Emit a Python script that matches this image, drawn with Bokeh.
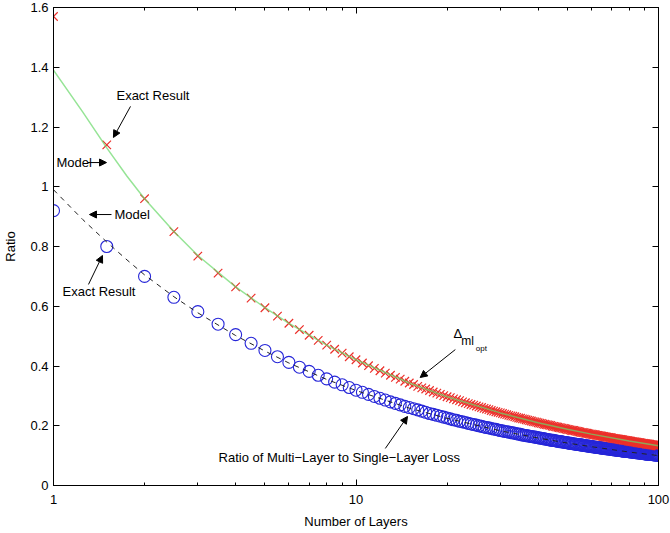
import numpy as np
from bokeh.plotting import figure
from bokeh.models import (Range1d, FixedTicker, LinearAxis, LogAxis, Label, Arrow,
                          NormalHead, CustomJSTickFormatter, ColumnDataSource)
from bokeh.embed import file_html
from bokeh.resources import INLINE

# ---------------- data ----------------
# number of layers (sampled every half layer from 1 to 100)
layers = [float(v) for v in np.arange(1.0, 100.5, 0.5)]

# exact result: Delta_ml_opt (red x markers)
exact_delta = [
    1.57, 1.14, 0.96, 0.85, 0.768, 0.711, 0.665, 0.627,
    0.595, 0.567, 0.543, 0.522, 0.503, 0.486, 0.470, 0.456, 0.443, 0.431,
    0.421, 0.410, 0.401, 0.392, 0.384, 0.376, 0.369, 0.362, 0.356, 0.349,
    0.343, 0.338, 0.332, 0.327, 0.323, 0.318, 0.313, 0.309, 0.305, 0.301,
    0.297, 0.294, 0.290, 0.287, 0.284, 0.280, 0.277, 0.274, 0.271, 0.269,
    0.266, 0.263, 0.261, 0.258, 0.256, 0.254, 0.251, 0.249, 0.247, 0.245,
    0.243, 0.241, 0.239, 0.237, 0.235, 0.233, 0.232, 0.230, 0.228, 0.226,
    0.225, 0.223, 0.222, 0.220, 0.219, 0.217, 0.216, 0.214, 0.213, 0.212,
    0.210, 0.209, 0.208, 0.206, 0.205, 0.204, 0.203, 0.202, 0.201, 0.199,
    0.198, 0.197, 0.196, 0.195, 0.194, 0.193, 0.192, 0.191, 0.190, 0.189,
    0.188, 0.187, 0.186, 0.185, 0.184, 0.184, 0.183, 0.182, 0.181, 0.180,
    0.179, 0.178, 0.178, 0.177, 0.176, 0.175, 0.175, 0.174, 0.173, 0.172,
    0.172, 0.171, 0.170, 0.170, 0.169, 0.168, 0.168, 0.167, 0.166, 0.166,
    0.165, 0.164, 0.164, 0.163, 0.163, 0.162, 0.161, 0.161, 0.160, 0.160,
    0.159, 0.158, 0.158, 0.157, 0.157, 0.156, 0.156, 0.155, 0.155, 0.154,
    0.154, 0.153, 0.153, 0.152, 0.152, 0.151, 0.151, 0.150, 0.150, 0.149,
    0.149, 0.148, 0.148, 0.147, 0.147, 0.146, 0.146, 0.146, 0.145, 0.145,
    0.144, 0.144, 0.143, 0.143, 0.143, 0.142, 0.142, 0.141, 0.141, 0.141,
    0.140, 0.140, 0.139, 0.139, 0.139, 0.138, 0.138, 0.138, 0.137, 0.137,
    0.136, 0.136, 0.136, 0.135, 0.135, 0.135, 0.134, 0.134, 0.134, 0.133,
    0.133,
]

# exact result: ratio of multi-layer to single-layer loss (blue circles)
exact_ratio = [
    0.92, 0.80, 0.70, 0.63, 0.582, 0.540, 0.505, 0.476,
    0.452, 0.431, 0.412, 0.396, 0.382, 0.369, 0.357, 0.346, 0.337, 0.328,
    0.319, 0.312, 0.305, 0.298, 0.292, 0.286, 0.280, 0.275, 0.270, 0.265,
    0.261, 0.257, 0.253, 0.249, 0.245, 0.241, 0.238, 0.235, 0.232, 0.229,
    0.226, 0.223, 0.220, 0.218, 0.215, 0.213, 0.211, 0.208, 0.206, 0.204,
    0.202, 0.200, 0.198, 0.196, 0.194, 0.193, 0.191, 0.189, 0.188, 0.186,
    0.184, 0.183, 0.181, 0.180, 0.179, 0.177, 0.176, 0.175, 0.173, 0.172,
    0.171, 0.169, 0.168, 0.167, 0.166, 0.165, 0.164, 0.163, 0.162, 0.161,
    0.160, 0.159, 0.158, 0.157, 0.156, 0.155, 0.154, 0.153, 0.152, 0.151,
    0.151, 0.150, 0.149, 0.148, 0.147, 0.147, 0.146, 0.145, 0.144, 0.144,
    0.143, 0.142, 0.141, 0.141, 0.140, 0.139, 0.139, 0.138, 0.137, 0.137,
    0.136, 0.136, 0.135, 0.134, 0.134, 0.133, 0.133, 0.132, 0.131, 0.131,
    0.130, 0.130, 0.129, 0.129, 0.128, 0.128, 0.127, 0.127, 0.126, 0.126,
    0.125, 0.125, 0.124, 0.124, 0.123, 0.123, 0.123, 0.122, 0.122, 0.121,
    0.121, 0.120, 0.120, 0.119, 0.119, 0.119, 0.118, 0.118, 0.117, 0.117,
    0.117, 0.116, 0.116, 0.115, 0.115, 0.115, 0.114, 0.114, 0.114, 0.113,
    0.113, 0.113, 0.112, 0.112, 0.112, 0.111, 0.111, 0.111, 0.110, 0.110,
    0.110, 0.109, 0.109, 0.109, 0.108, 0.108, 0.108, 0.107, 0.107, 0.107,
    0.106, 0.106, 0.106, 0.106, 0.105, 0.105, 0.105, 0.104, 0.104, 0.104,
    0.104, 0.103, 0.103, 0.103, 0.103, 0.102, 0.102, 0.102, 0.102, 0.101,
    0.101,
]

# model curves
model_x = [1, 1.25, 1.5, 1.75, 2, 2.5, 3, 4, 5, 6, 8, 10, 15, 20, 30, 40, 50, 60, 80, 100]
model_delta = [1.39, 1.25, 1.13, 1.035, 0.96, 0.85, 0.77, 0.665, 0.595, 0.543, 0.470,
               0.421, 0.343, 0.297, 0.243, 0.210, 0.188, 0.172, 0.149, 0.133]
model_ratio = [0.99, 0.89, 0.815, 0.755, 0.705, 0.632, 0.578, 0.502, 0.450, 0.410, 0.355,
               0.318, 0.259, 0.225, 0.183, 0.159, 0.142, 0.130, 0.112, 0.100]

y_ticks = [0, 0.2, 0.4, 0.6, 0.8, 1.0, 1.2, 1.4, 1.6]
x_ticks = [1, 10, 100]
x_minor_ticks = [2, 3, 4, 5, 6, 7, 8, 9, 20, 30, 40, 50, 60, 70, 80, 90]

FONT = "Liberation Sans"

# ---------------- figure ----------------
p = figure(width=670, height=533, x_axis_type="log",
           x_range=Range1d(1, 100), y_range=Range1d(0, 1.6),
           output_backend="svg", toolbar_location=None,
           min_border_left=53, min_border_right=12, min_border_top=7, min_border_bottom=48)
p.background_fill_color = "white"
p.border_fill_color = "white"
p.xgrid.visible = False
p.ygrid.visible = False
p.outline_line_color = "black"
p.outline_line_width = 1

xa = p.xaxis[0]
xa.ticker = FixedTicker(ticks=x_ticks, minor_ticks=x_minor_ticks)
xa.formatter = CustomJSTickFormatter(code="return String(Math.round(tick));")
xa.axis_label = "Number of Layers"
ya = p.yaxis[0]
ya.ticker = FixedTicker(ticks=y_ticks, minor_ticks=[])
ya.formatter = CustomJSTickFormatter(code="return String(Math.round(tick*10)/10);")
ya.axis_label = "Ratio"

for ax in (xa, ya):
    ax.major_tick_in = 6
    ax.major_tick_out = 0
    ax.minor_tick_in = 3
    ax.minor_tick_out = 0
    ax.axis_line_color = "black"
    ax.major_tick_line_color = "black"
    ax.minor_tick_line_color = "black"
    ax.major_label_text_font = FONT
    ax.major_label_text_font_size = "13px"
    ax.major_label_text_color = "black"
    ax.axis_label_text_font = FONT
    ax.axis_label_text_font_size = "13px"
    ax.axis_label_text_font_style = "normal"
    ax.axis_label_text_color = "black"
xa.major_label_standoff = 9
xa.axis_label_standoff = 7
ya.major_label_standoff = 5
ya.axis_label_standoff = 9

blank = "return ' ';"
top = LogAxis(ticker=FixedTicker(ticks=x_ticks, minor_ticks=x_minor_ticks),
              formatter=CustomJSTickFormatter(code=blank),
              major_label_text_font_size="1px", major_label_standoff=0,
              major_tick_in=6, major_tick_out=0, minor_tick_in=3, minor_tick_out=0)
right = LinearAxis(ticker=FixedTicker(ticks=y_ticks, minor_ticks=[]),
                   formatter=CustomJSTickFormatter(code=blank),
                   major_label_text_font_size="1px", major_label_standoff=0,
                   major_tick_in=6, major_tick_out=0, minor_tick_in=0, minor_tick_out=0)
p.add_layout(top, "above")
p.add_layout(right, "right")

# ---------------- data marks ----------------
src_exact = ColumnDataSource(dict(x=layers, delta=exact_delta, ratio=exact_ratio))
src_model = ColumnDataSource(dict(x=model_x, delta=model_delta, ratio=model_ratio))

p.scatter("x", "ratio", source=src_exact, marker="circle", size=12,
          fill_color=None, line_color="#2626d8", line_width=1.1)
p.line("x", "ratio", source=src_model, line_color="#222222", line_width=1, line_dash="5 5")
p.scatter("x", "delta", source=src_exact, marker="x", size=12,
          line_color="#ec2f2a", line_width=1.2)
p.line("x", "delta", source=src_model, line_color="#6ad86a", line_width=1.5, line_alpha=0.7)

# ---------------- annotations ----------------
def lab(x, y, text, size="13px"):
    p.add_layout(Label(x=x, y=y, text=text, text_font=FONT, text_font_size=size,
                       text_color="black", text_baseline="middle", text_align="left"))

def arr(x0, y0, x1, y1):
    p.add_layout(Arrow(end=NormalHead(size=7, fill_color="black", line_color="black"),
                       x_start=x0, y_start=y0, x_end=x1, y_end=y1,
                       line_color="black", line_width=1))

lab(1.615, 1.305, "Exact Result")
arr(1.797, 1.269, 1.578, 1.165)
lab(1.023, 1.081, "Model")
arr(1.30, 1.081, 1.497, 1.081)
lab(1.591, 0.907, "Model")
arr(1.555, 0.907, 1.315, 0.907)
lab(1.071, 0.649, "Exact Result")
arr(1.305, 0.673, 1.452, 0.770)
lab(3.512, 0.094, "Ratio of Multi\u2212Layer to Single\u2212Layer Loss")
arr(12.5, 0.124, 14.8, 0.231)
lab(21.0, 0.509, "\u0394", "13px")
lab(22.3, 0.485, "ml", "12px")
lab(24.9, 0.459, "opt", "8px")
arr(21.3, 0.455, 16.3, 0.3615)

open("out.html", "w").write(file_html(p, INLINE))
